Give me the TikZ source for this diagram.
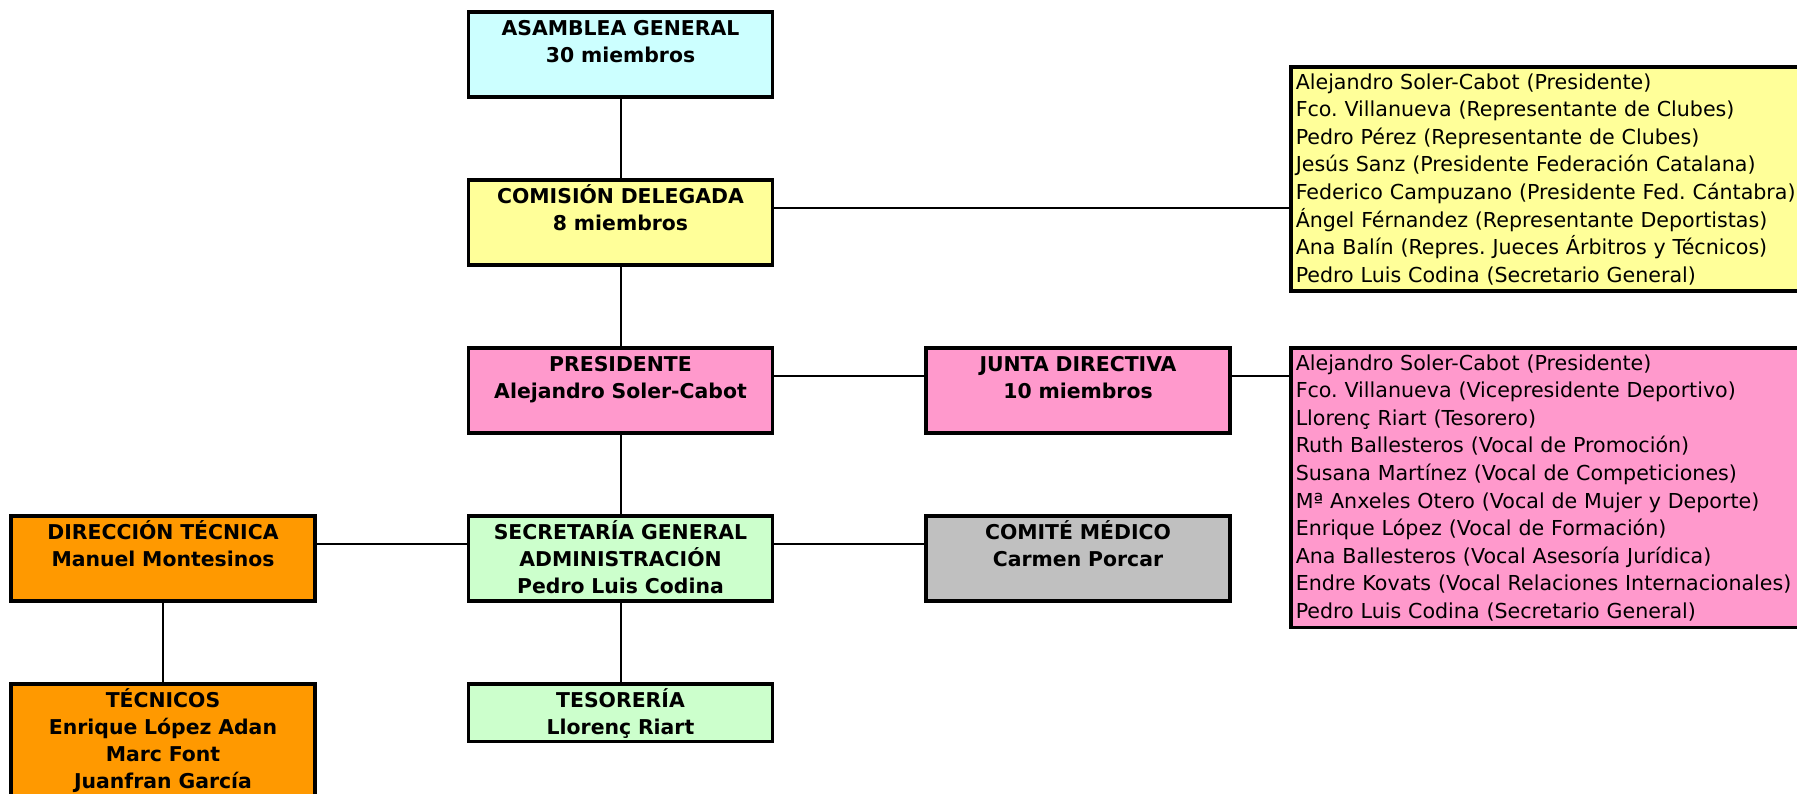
\documentclass[tikz,border=0pt]{standalone}
\usepackage{fontspec}
\setmainfont{DejaVu Sans}
\frenchspacing
\usetikzlibrary{positioning}
\definecolor{cian}{HTML}{CCFFFF}
\definecolor{amarillo}{HTML}{FFFF99}
\definecolor{rosa}{HTML}{FF99CC}
\definecolor{verde}{HTML}{CCFFCC}
\definecolor{gris}{HTML}{C0C0C0}
\definecolor{naranja}{HTML}{FF9900}

\begin{document}
\begin{tikzpicture}[x=1pt,y=-1pt,
caja/.style={draw, line width=3.5pt, inner sep=0pt, text width=304pt, align=center, text height=23.5pt, text depth=61.5pt, anchor=north, font=\fontsize{20.4}{27}\selectfont\bfseries},
lista/.style={draw, line width=3.5pt, inner xsep=5pt, inner ysep=0pt, text width=520pt, align=left, text height=22.3pt, anchor=north west, font=\fontsize{20.6}{27.6}\selectfont},
linea/.style={line width=2pt},
node distance=79.5pt]
\useasboundingbox (0,0) rectangle (1797,793);

\node (asamblea) at (620.5,10) [caja, fill=cian] {ASAMBLEA GENERAL\\30 miembros};
\node (comision) [caja, fill=amarillo, below=of asamblea] {COMISIÓN DELEGADA\\8 miembros};
\node (presidente) [caja, fill=rosa, below=of comision] {PRESIDENTE\\Alejandro Soler-Cabot};
\node (secretaria) [caja, fill=verde, below=of presidente] {SECRETARÍA GENERAL\\ADMINISTRACIÓN\\Pedro Luis Codina};
\node (tesoreria) [caja, fill=verde, text depth=34pt, below=of secretaria] {TESORERÍA\\Llorenç Riart};
\node (junta) [caja, fill=rosa, right=150pt of presidente] {JUNTA DIRECTIVA\\10 miembros};
\node (comite) [caja, fill=gris, right=150pt of secretaria] {COMITÉ MÉDICO\\Carmen Porcar};
\node (direccion) [caja, fill=naranja, left=150pt of secretaria] {DIRECCIÓN TÉCNICA\\Manuel Montesinos};
\node (tecnicos) [caja, fill=naranja, text depth=130pt, below=of direccion] {TÉCNICOS\\Enrique López Adan\\Marc Font\\Juanfran García};

\node (lista1) at (1289,65) [lista, fill=amarillo, text depth=202pt] {Alejandro Soler-Cabot (Presidente)\\
Fco. Villanueva (Representante de Clubes)\\
Pedro Pérez (Representante de Clubes)\\
Jesús Sanz (Presidente Federación Catalana)\\
Federico Campuzano (Presidente Fed. Cántabra)\\
Ángel Férnandez (Representante Deportistas)\\
Ana Balín (Repres. Jueces Árbitros y Técnicos)\\
Pedro Luis Codina (Secretario General)};
\node (lista2) at (1289,346) [lista, fill=rosa, text depth=257.4pt] {Alejandro Soler-Cabot (Presidente)\\
Fco. Villanueva (Vicepresidente Deportivo)\\
Llorenç Riart (Tesorero)\\
Ruth Ballesteros (Vocal de Promoción)\\
Susana Martínez (Vocal de Competiciones)\\
Mª Anxeles Otero (Vocal de Mujer y Deporte)\\
Enrique López (Vocal de Formación)\\
Ana Ballesteros (Vocal Asesoría Jurídica)\\
Endre Kovats (Vocal Relaciones Internacionales)\\
Pedro Luis Codina (Secretario General)};

% lineas verticales
\foreach \a/\b in {asamblea/comision,comision/presidente,presidente/secretaria,secretaria/tesoreria,direccion/tecnicos}
\draw[linea] (\a) -- (\b);
% lineas horizontales
\foreach \a/\b in {comision/lista1,presidente/junta,junta/lista2,direccion/secretaria,secretaria/comite} {
\coordinate (p) at ([yshift=-30pt]\a.north east);
\draw[linea] (p) -- (p -| \b.west);
}
\end{tikzpicture}
\end{document}
